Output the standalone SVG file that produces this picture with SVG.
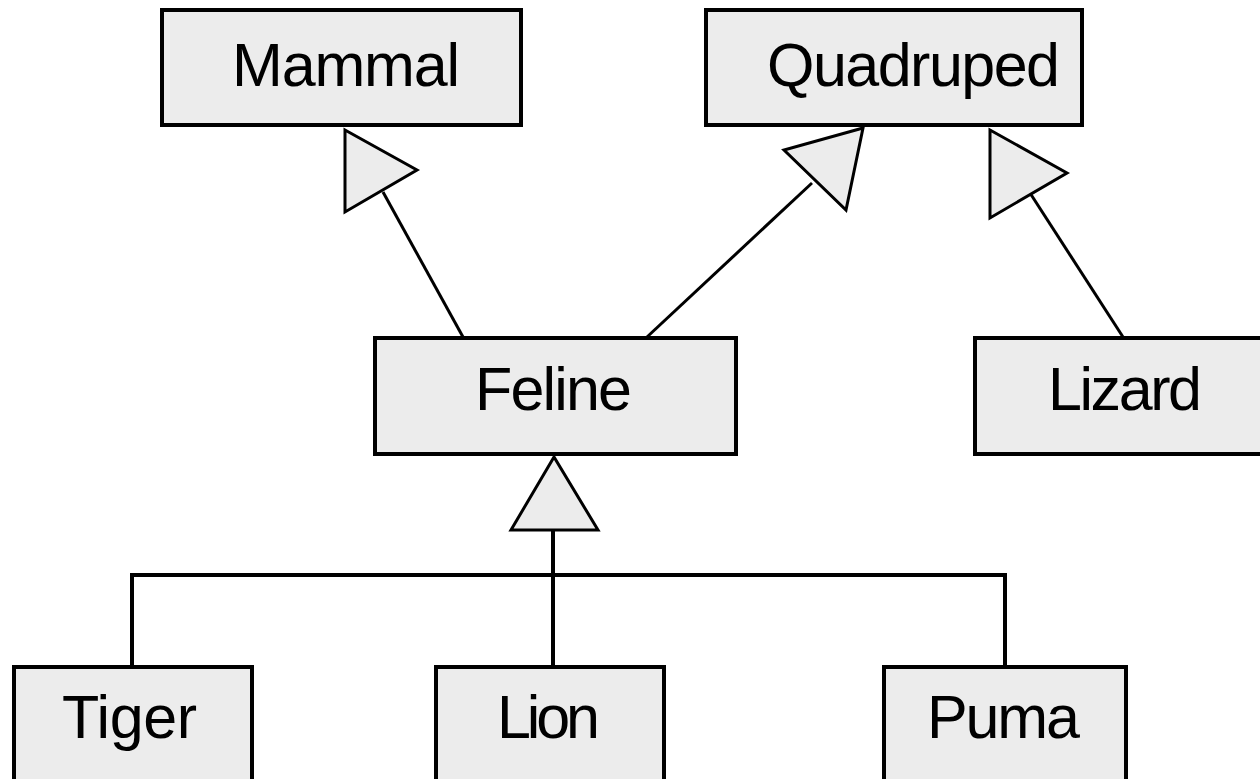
<svg xmlns="http://www.w3.org/2000/svg" width="1260" height="779" viewBox="0 0 1260 779">
  <style>
    .box { fill: #ececec; stroke: #000; stroke-width: 4; }
    .label { font-family: "Liberation Sans", Arial, sans-serif; font-size: 61px; fill: #000; }
    .edge { fill: none; stroke: #000; stroke-width: 3; }
    .tree { fill: none; stroke: #000; stroke-width: 4; }
    .head { fill: #ececec; stroke: #000; stroke-width: 3; stroke-linejoin: miter; }
  </style>
  <rect width="1260" height="779" fill="#fff"/>

  <!-- generalization connectors -->
  <g id="connectors">
    <!-- Feline -> Mammal -->
    <line class="edge" x1="463" y1="337" x2="383" y2="192"/>
    <polygon class="head" points="345,130 417,170 345,212"/>
    <!-- Feline -> Quadruped -->
    <line class="edge" x1="647" y1="337" x2="812" y2="183"/>
    <polygon class="head" points="863,128 784,150 846,210"/>
    <!-- Lizard -> Quadruped -->
    <line class="edge" x1="1123" y1="337" x2="1030" y2="193"/>
    <polygon class="head" points="990,130 1067,173 990,218"/>
    <!-- Tiger, Lion, Puma -> Feline (shared tree) -->
    <polyline class="tree" points="132,666 132,575 1005,575 1005,666"/>
    <line class="tree" x1="553" y1="530" x2="553" y2="666"/>
    <polygon class="head" points="554,457 511,530 598,530"/>
  </g>

  <g id="mammal">
    <rect class="box" x="162" y="10" width="359" height="115"/>
    <text class="label" x="232" y="86" textLength="228" lengthAdjust="spacing">Mammal</text>
  </g>
  <g id="quadruped">
    <rect class="box" x="706" y="10" width="376" height="115"/>
    <text class="label" x="767" y="86" textLength="293" lengthAdjust="spacing">Quadruped</text>
  </g>
  <g id="feline">
    <rect class="box" x="375" y="338" width="361" height="116"/>
    <text class="label" x="475" y="410" textLength="157" lengthAdjust="spacing">Feline</text>
  </g>
  <g id="lizard">
    <rect class="box" x="975" y="338" width="300" height="116"/>
    <text class="label" x="1048" y="410" textLength="154" lengthAdjust="spacing">Lizard</text>
  </g>
  <g id="tiger">
    <rect class="box" x="14" y="667" width="238" height="140"/>
    <text class="label" x="62" y="738" textLength="135" lengthAdjust="spacing">Tiger</text>
  </g>
  <g id="lion">
    <rect class="box" x="436" y="667" width="228" height="140"/>
    <text class="label" x="497" y="738" textLength="103" lengthAdjust="spacing">Lion</text>
  </g>
  <g id="puma">
    <rect class="box" x="884" y="667" width="242" height="140"/>
    <text class="label" x="927" y="738" textLength="153" lengthAdjust="spacing">Puma</text>
  </g>
</svg>
